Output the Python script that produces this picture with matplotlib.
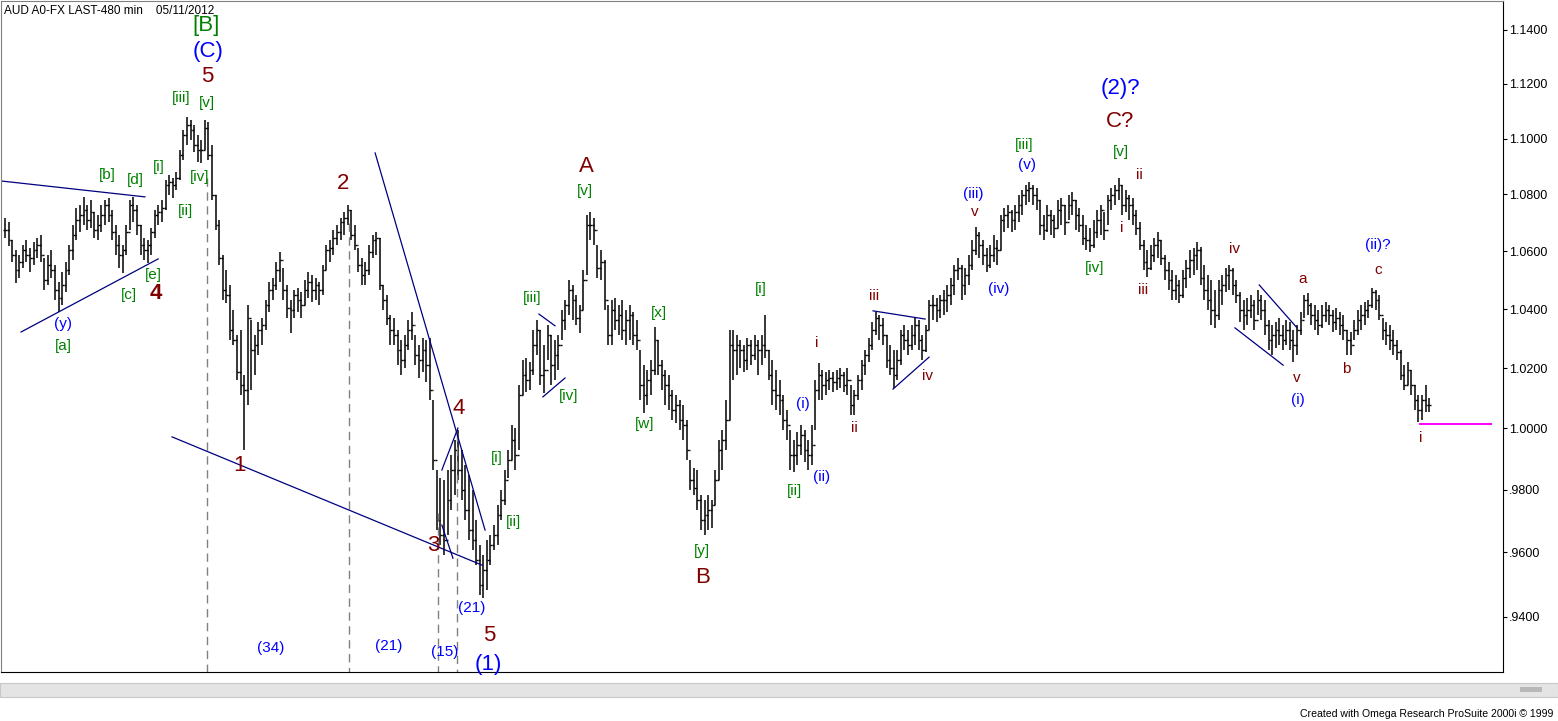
import matplotlib
matplotlib.use('Agg')
import matplotlib.pyplot as plt
from matplotlib.ticker import FixedLocator, FuncFormatter, NullLocator
from matplotlib.patches import Rectangle
import numpy as np

plt.rcParams['font.family'] = ['Liberation Sans', 'DejaVu Sans']

# AUD 480 min bars, prices in pips (1/10000)
high = [10716, 10702, 10639, 10604, 10586, 10621, 10639, 10611, 10632, 10646,
        10656, 10576, 10586, 10604, 10552, 10493, 10528, 10562, 10621, 10691,
        10752, 10762, 10791, 10762, 10780, 10738, 10727, 10762, 10780, 10787,
        10745, 10691, 10656, 10621, 10691, 10780, 10791, 10762, 10691, 10646,
        10639, 10681, 10745, 10762, 10780, 10851, 10869, 10858, 10880, 10959,
        11031, 11078, 11067, 11049, 11013, 10995, 11067, 11060, 10977, 10798,
        10709, 10586, 10535, 10483, 10397, 10312, 10329, 10177, 10414, 10363,
        10312, 10356, 10370, 10431, 10493, 10507, 10562, 10597, 10542, 10483,
        10431, 10466, 10473, 10459, 10500, 10528, 10517, 10507, 10493, 10552,
        10621, 10639, 10674, 10691, 10716, 10738, 10762, 10745, 10691, 10611,
        10576, 10562, 10621, 10656, 10667, 10646, 10483, 10448, 10380, 10370,
        10329, 10295, 10312, 10363, 10390, 10312, 10278, 10302, 10295, 10302,
        10094, 9864, 9838, 9831, 9864, 9913, 9962, 9995, 9929, 9880,
        9848, 9799, 9703, 9623, 9592, 9639, 9655, 9687, 9751, 9799,
        9864, 9929, 10011, 10001, 10143, 10227, 10234, 10220, 10329, 10363,
        10329, 10278, 10346, 10312, 10295, 10312, 10397, 10431, 10500, 10483,
        10448, 10414, 10535, 10727, 10738, 10716, 10621, 10604, 10569, 10414,
        10431, 10438, 10414, 10431, 10397, 10414, 10390, 10363, 10261, 10210,
        10194, 10227, 10339, 10295, 10227, 10194, 10177, 10127, 10110, 10094,
        10077, 10027, 9896, 9870, 9864, 9783, 9767, 9783, 9767, 9864,
        9962, 9995, 10094, 10329, 10329, 10312, 10295, 10278, 10302, 10295,
        10312, 10295, 10312, 10380, 10261, 10227, 10194, 10160, 10110, 10060,
        9995, 9962, 9988, 10011, 9995, 9962, 10011, 10160, 10217, 10194,
        10187, 10194, 10187, 10194, 10200, 10187, 10200, 10143, 10127, 10177,
        10227, 10261, 10302, 10356, 10390, 10380, 10370, 10312, 10278, 10261,
        10261, 10329, 10346, 10329, 10346, 10370, 10363, 10312, 10346, 10431,
        10448, 10438, 10448, 10466, 10483, 10507, 10552, 10576, 10552, 10542,
        10586, 10639, 10684, 10667, 10639, 10611, 10621, 10656, 10639, 10727,
        10752, 10762, 10745, 10762, 10798, 10816, 10833, 10844, 10833, 10823,
        10780, 10727, 10762, 10745, 10727, 10780, 10787, 10762, 10798, 10809,
        10780, 10752, 10727, 10691, 10681, 10709, 10745, 10762, 10738, 10798,
        10823, 10833, 10858, 10833, 10816, 10798, 10787, 10745, 10702, 10639,
        10604, 10621, 10646, 10667, 10639, 10586, 10562, 10535, 10517, 10500,
        10535, 10569, 10604, 10611, 10632, 10614, 10552, 10517, 10500, 10466,
        10500, 10517, 10542, 10552, 10542, 10500, 10459, 10431, 10438, 10448,
        10431, 10466, 10448, 10431, 10363, 10346, 10356, 10370, 10346, 10363,
        10356, 10329, 10346, 10390, 10448, 10456, 10421, 10414, 10397, 10414,
        10424, 10414, 10397, 10404, 10390, 10380, 10329, 10322, 10363, 10397,
        10414, 10424, 10431, 10473, 10466, 10448, 10370, 10356, 10346, 10329,
        10295, 10261, 10210, 10220, 10194, 10143, 10110, 10110, 10143, 10100]
low = [10646, 10618, 10562, 10490, 10507, 10542, 10562, 10528, 10552, 10576,
       10562, 10466, 10483, 10507, 10431, 10390, 10414, 10459, 10517, 10569,
       10639, 10667, 10691, 10674, 10681, 10646, 10639, 10667, 10691, 10702,
       10639, 10586, 10542, 10524, 10586, 10674, 10702, 10656, 10586, 10569,
       10559, 10586, 10646, 10691, 10702, 10745, 10798, 10787, 10816, 10851,
       10923, 10977, 10995, 10952, 10916, 10912, 10959, 10923, 10780, 10674,
       10552, 10431, 10421, 10295, 10278, 10160, 10110, 9929, 10077, 10127,
       10177, 10244, 10278, 10329, 10390, 10431, 10466, 10493, 10431, 10370,
       10319, 10370, 10390, 10370, 10414, 10438, 10424, 10431, 10414, 10448,
       10535, 10562, 10586, 10621, 10639, 10656, 10691, 10639, 10604, 10528,
       10483, 10483, 10517, 10576, 10586, 10466, 10397, 10346, 10278, 10278,
       10210, 10177, 10200, 10261, 10295, 10210, 10167, 10187, 10153, 10094,
       9864, 9671, 9623, 9592, 9655, 9735, 9783, 9831, 9767, 9703,
       9639, 9607, 9560, 9467, 9457, 9482, 9560, 9607, 9623, 9703,
       9751, 9838, 9896, 9864, 9929, 10110, 10120, 10127, 10177, 10244,
       10143, 10117, 10227, 10143, 10160, 10194, 10295, 10329, 10380, 10363,
       10346, 10319, 10397, 10517, 10639, 10621, 10507, 10500, 10397, 10278,
       10278, 10329, 10312, 10295, 10278, 10295, 10278, 10261, 10094, 10050,
       10077, 10110, 10177, 10177, 10127, 10077, 10060, 10027, 10017, 9995,
       9962, 9896, 9799, 9783, 9735, 9671, 9655, 9671, 9677, 9751,
       9831, 9864, 9929, 10027, 10160, 10177, 10200, 10187, 10194, 10210,
       10227, 10177, 10210, 10234, 10160, 10077, 10060, 10044, 9995, 9962,
       9864, 9857, 9880, 9913, 9890, 9864, 9880, 9995, 10094, 10094,
       10110, 10127, 10120, 10127, 10133, 10120, 10110, 10044, 10044, 10094,
       10127, 10177, 10220, 10261, 10312, 10295, 10278, 10200, 10177, 10133,
       10160, 10210, 10261, 10244, 10261, 10278, 10261, 10227, 10254, 10329,
       10363, 10356, 10370, 10380, 10390, 10414, 10448, 10500, 10431, 10448,
       10483, 10535, 10586, 10576, 10552, 10528, 10542, 10562, 10552, 10604,
       10667, 10681, 10667, 10674, 10702, 10727, 10762, 10773, 10762, 10745,
       10656, 10639, 10667, 10656, 10646, 10681, 10691, 10656, 10709, 10727,
       10674, 10667, 10621, 10604, 10597, 10611, 10646, 10656, 10639, 10691,
       10745, 10762, 10780, 10727, 10738, 10709, 10691, 10656, 10604, 10535,
       10510, 10535, 10562, 10576, 10552, 10500, 10466, 10431, 10431, 10421,
       10438, 10473, 10507, 10517, 10535, 10483, 10431, 10397, 10346, 10336,
       10363, 10414, 10459, 10466, 10448, 10421, 10356, 10329, 10346, 10370,
       10329, 10380, 10363, 10312, 10261, 10244, 10268, 10278, 10261, 10278,
       10261, 10220, 10244, 10312, 10370, 10380, 10346, 10329, 10312, 10336,
       10356, 10346, 10322, 10329, 10312, 10295, 10244, 10244, 10295, 10312,
       10329, 10346, 10370, 10404, 10397, 10363, 10295, 10278, 10261, 10244,
       10227, 10160, 10127, 10143, 10110, 10060, 10021, 10027, 10053, 10053]
close = [10674, 10639, 10586, 10535, 10562, 10604, 10586, 10576, 10604, 10621,
         10586, 10500, 10552, 10535, 10466, 10438, 10483, 10535, 10604, 10656,
         10709, 10727, 10745, 10709, 10738, 10674, 10691, 10727, 10762, 10727,
         10667, 10621, 10586, 10604, 10667, 10762, 10745, 10691, 10621, 10604,
         10621, 10667, 10727, 10738, 10752, 10833, 10844, 10833, 10858, 10941,
         11013, 11049, 11031, 10977, 10959, 10959, 11038, 10941, 10798, 10691,
         10576, 10466, 10448, 10329, 10295, 10187, 10143, 10127, 10370, 10261,
         10278, 10329, 10346, 10414, 10466, 10483, 10535, 10569, 10466, 10404,
         10397, 10448, 10431, 10414, 10466, 10493, 10466, 10483, 10466, 10535,
         10604, 10611, 10646, 10667, 10702, 10716, 10745, 10656, 10621, 10552,
         10517, 10535, 10597, 10639, 10646, 10483, 10431, 10370, 10329, 10312,
         10261, 10227, 10278, 10329, 10346, 10244, 10227, 10261, 10210, 10127,
         9896, 9703, 9655, 9639, 9767, 9864, 9929, 9864, 9799, 9735,
         9671, 9639, 9576, 9498, 9544, 9576, 9623, 9655, 9719, 9767,
         9831, 9896, 9962, 9913, 10110, 10177, 10160, 10194, 10278, 10329,
         10177, 10194, 10312, 10210, 10244, 10278, 10363, 10414, 10466, 10431,
         10370, 10397, 10500, 10691, 10691, 10674, 10542, 10562, 10431, 10312,
         10397, 10363, 10380, 10329, 10363, 10380, 10312, 10295, 10143, 10110,
         10160, 10194, 10295, 10210, 10177, 10143, 10110, 10060, 10077, 10027,
         10011, 9929, 9831, 9805, 9767, 9703, 9719, 9735, 9751, 9831,
         9929, 9962, 10027, 10278, 10261, 10278, 10261, 10227, 10278, 10244,
         10278, 10261, 10278, 10261, 10177, 10127, 10110, 10094, 10027, 10011,
         9913, 9913, 9946, 9979, 9929, 9913, 9946, 10127, 10177, 10143,
         10160, 10167, 10153, 10167, 10177, 10143, 10160, 10077, 10110, 10160,
         10210, 10244, 10278, 10329, 10370, 10346, 10312, 10227, 10200, 10177,
         10227, 10312, 10295, 10278, 10312, 10346, 10295, 10261, 10329, 10414,
         10414, 10397, 10431, 10431, 10448, 10483, 10535, 10542, 10483, 10517,
         10552, 10604, 10656, 10621, 10586, 10552, 10586, 10611, 10604, 10709,
         10727, 10738, 10709, 10738, 10762, 10798, 10816, 10823, 10798, 10780,
         10691, 10674, 10727, 10709, 10681, 10745, 10762, 10702, 10762, 10780,
         10727, 10691, 10646, 10639, 10621, 10667, 10709, 10745, 10674, 10780,
         10798, 10816, 10833, 10762, 10787, 10762, 10727, 10681, 10621, 10562,
         10542, 10586, 10621, 10639, 10576, 10535, 10500, 10466, 10483, 10448,
         10507, 10542, 10569, 10586, 10604, 10507, 10466, 10431, 10397, 10380,
         10466, 10483, 10517, 10535, 10483, 10448, 10397, 10380, 10397, 10414,
         10363, 10431, 10397, 10346, 10295, 10312, 10329, 10312, 10295, 10329,
         10295, 10278, 10329, 10363, 10431, 10414, 10380, 10363, 10346, 10380,
         10397, 10380, 10356, 10370, 10346, 10329, 10295, 10278, 10329, 10363,
         10380, 10397, 10414, 10459, 10431, 10380, 10329, 10312, 10295, 10278,
         10254, 10177, 10143, 10194, 10143, 10094, 10060, 10094, 10077, 10077]

price_ticks = [0.94, 0.96, 0.98, 1.00, 1.02, 1.04, 1.06, 1.08, 1.10, 1.12, 1.14]

G, BL, R = '#008000', '#0000ff', '#800000'
# wave counts: bar, price, text, colour, big?
waves = [
    (56.3, 1.1415, '[B]', G, 1), (56.9, 1.1318, '(C)', BL, 1), (56.6, 1.1225, '5', R, 1),
    (49.3, 1.1148, '[iii]', G, 0), (56.6, 1.1129, '[v]', G, 0), (43.1, 1.0898, '[i]', G, 0),
    (28.6, 1.0869, '[b]', G, 0), (36.4, 1.0851, '[d]', G, 0), (54.4, 1.0862, '[iv]', G, 0),
    (50.7, 1.0741, '[ii]', G, 0), (41.7, 1.0517, '[e]', G, 0), (34.7, 1.0448, '[c]', G, 0),
    (42.3, 1.0452, '4', R, 2), (16.3, 1.0349, '(y)', BL, 0), (16.3, 1.0275, '[a]', G, 0),
    (65.8, 0.9877, '1', R, 1), (94.7, 1.0837, '2', R, 1), (119.9, 0.9623, '3', R, 1),
    (127.2, 1.0067, '4', R, 1), (135.6, 0.9340, '5', R, 1), (135.3, 0.9254, '(1)', BL, 1),
    (130.8, 0.9426, '(21)', BL, 0), (74.3, 0.9303, '(34)', BL, 0), (107.6, 0.9309, '(21)', BL, 0),
    (123.3, 0.9291, '(15)', BL, 0),
    (137.9, 0.9903, '[i]', G, 0), (142.6, 0.9697, '[ii]', G, 0), (147.7, 1.0438, '[iii]', G, 0),
    (158.0, 1.0107, '[iv]', G, 0), (162.5, 1.0812, '[v]', G, 0), (162.8, 1.0898, 'A', R, 1),
    (183.2, 1.0387, '[x]', G, 0), (179.3, 1.0014, '[w]', G, 0), (195.3, 0.9604, '[y]', G, 0),
    (195.3, 0.9522, 'B', R, 1),
    (211.8, 1.0469, '[i]', G, 0), (227.5, 1.0285, 'i', R, 0), (223.6, 1.0080, '(i)', BL, 0),
    (221.1, 0.9796, '[ii]', G, 0), (228.9, 0.9841, '(ii)', BL, 0), (237.9, 1.0001, 'ii', R, 0),
    (243.5, 1.0445, 'iii', R, 0), (258.6, 1.0174, 'iv', R, 0), (271.2, 1.0801, '(iii)', BL, 0),
    (271.8, 1.0738, 'v', R, 0), (278.5, 1.0469, '(iv)', BL, 0), (285.5, 1.0977, '[iii]', G, 0),
    (286.4, 1.0905, '(v)', BL, 0), (312.4, 1.1181, '(2)?', BL, 1), (312.4, 1.1063, 'C?', R, 1),
    (312.7, 1.0952, '[v]', G, 0), (317.7, 1.0869, 'ii', R, 0), (313.0, 1.0681, 'i', R, 0),
    (305.4, 1.0542, '[iv]', G, 0), (318.9, 1.0466, 'iii', R, 0), (344.4, 1.0607, 'iv', R, 0),
    (363.7, 1.0504, 'a', R, 0), (384.7, 1.0621, '(ii)?', BL, 0), (384.7, 1.0535, 'c', R, 0),
    (375.7, 1.0197, 'b', R, 0), (362.0, 1.0167, 'v', R, 0), (362.3, 1.0094, '(i)', BL, 0),
    (396.7, 0.9968, 'i', R, 0),
]

# analyst trendlines: (bar0, price0, bar1, price1)
trend = [
    (-1.4, 1.0848, 39.2, 1.0791), (4.5, 1.0322, 42.9, 1.0573),
    (46.8, 0.9972, 133.7, 0.9560), (103.7, 1.0948, 134.5, 0.9671),
    (122.4, 0.9864, 126.9, 1.0001), (122.4, 0.9687, 125.5, 0.9582),
    (149.6, 1.0383, 154.1, 1.0343), (150.7, 1.0104, 156.9, 1.0167),
    (243.2, 1.0394, 257.8, 1.0366), (248.8, 1.0130, 258.9, 1.0237),
    (351.4, 1.0483, 362.0, 1.0336), (344.6, 1.0336, 358.1, 1.0210),
]
# dashed time markers: bar, top price
markers = [(56.6, 1.0858), (96.4, 1.0698), (121.3, 0.9725), (126.6, 0.9985)]
target = (396.5, 416.3, 1.0014)

hi = np.array(high) / 10000.0
lo = np.array(low) / 10000.0
cl = np.array(close) / 10000.0
op = np.concatenate([[cl[0]], cl[:-1]])
xb = np.arange(len(hi))
assert len(hi) == len(lo) == len(cl)

W, H = 1558, 721
fig = plt.figure(figsize=(W / 100, H / 100), dpi=100)
fig.patch.set_facecolor('white')
ax = fig.add_axes([1 / W, 49 / H, 1502 / W, 671 / H])
ax.set_yscale('log')
ax.set_xlim(-1.12, 419.7)
ax.set_ylim(0.9230, 1.1509)

ax.vlines(xb, lo, hi, colors='black', lw=1.1)
ax.hlines(op, xb - 0.5, xb, colors='black', lw=1.0)
ax.hlines(cl, xb, xb + 0.5, colors='black', lw=1.0)

for b, ptop in markers:
    ax.plot([b, b], [ptop, 0.9230], color='#808080', lw=1, ls=(0, (6, 4)))
for x0, y0, x1, y1 in trend:
    ax.plot([x0, x1], [y0, y1], color='#000080', lw=0.9)
ax.plot([target[0], target[1]], [target[2], target[2]], color='#ff00ff', lw=1.4)

for b, p, t, c, big in waves:
    ax.text(b, p, t, color=c, ha='center', va='center',
            fontsize=16 if big else 11, fontweight='bold' if big == 2 else 'normal')

ax.yaxis.tick_right()
ax.yaxis.set_major_locator(FixedLocator(price_ticks))
ax.yaxis.set_minor_locator(NullLocator())
ax.yaxis.set_major_formatter(FuncFormatter(lambda v, pos: ('%.4f' % v).lstrip('0')))
ax.tick_params(axis='y', direction='out', length=3, width=0.8, labelsize=9, pad=1.5, colors='black')
ax.set_xticks([])
for s in ['left', 'top']:
    ax.spines[s].set_color('#808080')
ax.spines['right'].set_color('black')
ax.spines['bottom'].set_color('black')

fig.text(4 / W, 1 - 11 / H, 'AUD A0-FX LAST-480 min    05/11/2012', fontsize=8.5, va='center', ha='left')
# scroll bar strip under the chart
fig.add_artist(Rectangle((0, 1 - 697 / H), 1, 14 / H, transform=fig.transFigure,
                         facecolor='#e4e4e4', edgecolor='#c8c8c8', lw=0.8))
fig.add_artist(Rectangle((1520 / W, 1 - 692 / H), 22 / W, 5 / H, transform=fig.transFigure,
                         facecolor='#b8b8b8', edgecolor='none'))
fig.text(1553 / W, 1 - 714 / H, 'Created with Omega Research ProSuite 2000i \u00a9 1999',
         fontsize=7.6, ha='right', va='center')

fig.savefig('out.png', dpi=100)
